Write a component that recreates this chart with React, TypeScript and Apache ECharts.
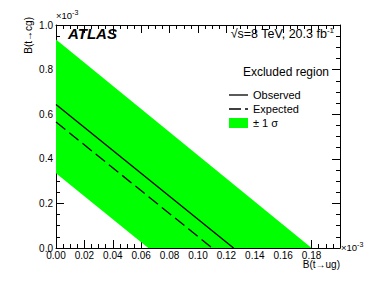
import React, { useEffect, useRef } from "react";
import * as echarts from "echarts";

const bandUpper: [number, number][] = [[0, 0.935], [0.18, 0]];
const bandLower: [number, number][] = [[0, 0.335], [0.065, 0]];
const observed: [number, number][] = [[0, 0.643], [0.125, 0]];
const expected: [number, number][] = [[0, 0.565], [0.11, 0]];
const legendLabels = ["Observed", "Expected", "± 1 σ"];

const FONT = "Liberation Sans, Arial, Helvetica, sans-serif";

export default function App() {
  const ref = useRef<HTMLDivElement>(null);
  useEffect(() => {
    if (!ref.current) return;
    const chart = echarts.init(ref.current, undefined, { renderer: "svg" });
    const bandPoly = [...bandUpper, ...bandLower.slice().reverse()];
    const axisCommon = {
      min: 0,
      axisLine: { show: true, onZero: false, lineStyle: { color: "#000", width: 1 } },
      axisTick: { show: true, inside: true, length: 8, lineStyle: { color: "#000" } },
      minorTick: { show: true, splitNumber: 4, length: 4, lineStyle: { color: "#000" } },
      splitLine: { show: false },
    };
    const sup = { fontSize: 7, fontFamily: FONT, fill: "#000", padding: [0, 0, 6, 0] };
    chart.setOption({
      animation: false,
      grid: { left: 56, right: 34, top: 25, bottom: 48 },
      xAxis: [
        {
          ...axisCommon,
          type: "value",
          max: 0.2,
          interval: 0.02,
          position: "bottom",
          axisLabel: {
            color: "#000",
            fontFamily: FONT,
            fontSize: 10,
            margin: 2,
            formatter: (v: number) => (v > 0.19 ? "" : v.toFixed(2)),
          },
        },
        {
          ...axisCommon,
          type: "value",
          max: 0.2,
          interval: 0.02,
          position: "top",
          axisLabel: { show: false },
        },
      ],
      yAxis: [
        {
          ...axisCommon,
          type: "value",
          max: 1.0,
          interval: 0.2,
          position: "left",
          axisLabel: {
            color: "#000",
            fontFamily: FONT,
            fontSize: 10,
            margin: 3,
            formatter: (v: number) => v.toFixed(1),
          },
        },
        {
          ...axisCommon,
          type: "value",
          max: 1.0,
          interval: 0.2,
          position: "right",
          axisLabel: { show: false },
        },
      ],
      series: [
        {
          type: "custom",
          xAxisIndex: 0,
          yAxisIndex: 0,
          clip: true,
          data: [0],
          renderItem: (_params: any, api: any) => ({
            type: "polygon",
            shape: { points: bandPoly.map((p) => api.coord(p)) },
            style: { fill: "#00ff00", stroke: "none" },
          }),
          z: 1,
        },
        {
          type: "line",
          data: observed,
          showSymbol: false,
          lineStyle: { color: "#000", width: 1.3 },
          z: 3,
        },
        {
          type: "line",
          data: expected,
          showSymbol: false,
          lineStyle: { color: "#000", width: 1.3, type: [12, 5] },
          z: 3,
        },
      ],
      graphic: [
        {
          type: "text",
          x: 68,
          y: 26,
          style: { text: "ATLAS", font: `italic bold 15px ${FONT}`, fill: "#000" },
        },
        {
          type: "text",
          x: 334,
          y: 26,
          style: {
            text: "√s=8 TeV, 20.3 fb{sup|-1}",
            fontFamily: FONT,
            fontSize: 12.5,
            fill: "#000",
            align: "right",
            verticalAlign: "top",
            rich: { sup: { ...sup, fontSize: 8, padding: [0, 0, 7, 0] } },
          },
        },
        {
          type: "text",
          x: 329,
          y: 66,
          style: {
            text: "Excluded region",
            fontFamily: FONT,
            fontSize: 12,
            fill: "#000",
            align: "right",
            verticalAlign: "top",
          },
        },
        {
          type: "line",
          shape: { x1: 229, y1: 95, x2: 248, y2: 95 },
          style: { stroke: "#000", lineWidth: 1.3 },
        },
        {
          type: "line",
          shape: { x1: 229, y1: 109, x2: 248, y2: 109 },
          style: { stroke: "#000", lineWidth: 1.3, lineDash: [12, 4] },
        },
        {
          type: "rect",
          shape: { x: 229, y: 118, width: 19, height: 10 },
          style: { fill: "#00ff00" },
        },
        ...legendLabels.map((t, i) => ({
          type: "text",
          x: 253,
          y: 95 + i * 14,
          style: {
            text: t,
            fontFamily: FONT,
            fontSize: 11,
            fill: "#000",
            verticalAlign: "middle",
          },
        })),
        {
          type: "text",
          x: 56,
          y: 9,
          style: {
            text: "×10{sup|-3}",
            fontFamily: FONT,
            fontSize: 9.5,
            fill: "#000",
            verticalAlign: "top",
            rich: { sup },
          },
        },
        {
          type: "text",
          x: 341,
          y: 241,
          style: {
            text: "×10{sup|-3}",
            fontFamily: FONT,
            fontSize: 9.5,
            fill: "#000",
            verticalAlign: "top",
            rich: { sup },
          },
        },
        {
          type: "text",
          x: 340,
          y: 259,
          style: {
            text: "B(t→ug)",
            fontFamily: FONT,
            fontSize: 10,
            fill: "#000",
            align: "right",
            verticalAlign: "top",
          },
        },
        {
          type: "text",
          x: 28,
          y: 17,
          rotation: Math.PI / 2,
          style: {
            text: "B(t→cg)",
            fontFamily: FONT,
            fontSize: 10,
            fill: "#000",
            align: "right",
            verticalAlign: "middle",
          },
        },
      ],
    });
    return () => chart.dispose();
  }, []);
  return <div ref={ref} style={{ width: 374, height: 296, margin: -8 }} />;
}
